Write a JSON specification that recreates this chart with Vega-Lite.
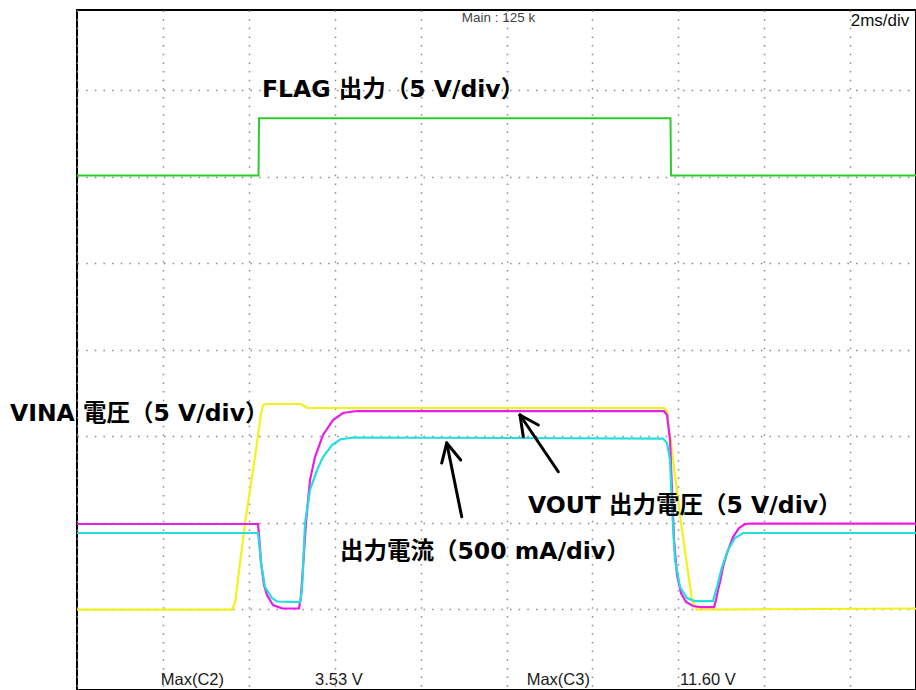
{
  "$schema": "https://vega.github.io/schema/vega-lite/v6.json",
  "width": 839,
  "height": 680,
  "autosize": {"type": "none"},
  "padding": {"left": 77, "top": 10, "right": 0, "bottom": 0},
  "background": "white",
  "config": {
    "view": {"stroke": "black", "strokeWidth": 2},
    "axis": {"grid": true, "labels": false, "ticks": false, "domain": false, "title": null, "gridColor": "#8a8a8a", "gridWidth": 1.5, "gridDash": [1.5, 7.15], "gridOpacity": 1}
  },
  "datasets": {
    "traces": [
      {"ch": "FLAG", "t": 0, "v": 5.012},
      {"ch": "FLAG", "t": 4.226, "v": 5.012},
      {"ch": "FLAG", "t": 4.238, "v": 5.673},
      {"ch": "FLAG", "t": 13.818, "v": 5.673},
      {"ch": "FLAG", "t": 13.830, "v": 5.012},
      {"ch": "FLAG", "t": 19.534, "v": 5.012},

      {"ch": "VINA", "t": 0, "v": -0.006},
      {"ch": "VINA", "t": 3.609, "v": -0.006},
      {"ch": "VINA", "t": 3.679, "v": 0.069},
      {"ch": "VINA", "t": 3.912, "v": 0.994},
      {"ch": "VINA", "t": 4.144, "v": 1.757},
      {"ch": "VINA", "t": 4.284, "v": 2.254},
      {"ch": "VINA", "t": 4.331, "v": 2.358},
      {"ch": "VINA", "t": 4.400, "v": 2.370},
      {"ch": "VINA", "t": 5.215, "v": 2.370},
      {"ch": "VINA", "t": 5.285, "v": 2.347},
      {"ch": "VINA", "t": 5.355, "v": 2.324},
      {"ch": "VINA", "t": 13.667, "v": 2.324},
      {"ch": "VINA", "t": 13.737, "v": 2.289},
      {"ch": "VINA", "t": 14.063, "v": 0.994},
      {"ch": "VINA", "t": 14.319, "v": 0.104},
      {"ch": "VINA", "t": 14.435, "v": -0.006},
      {"ch": "VINA", "t": 19.534, "v": 0.006},

      {"ch": "VOUT", "t": 0, "v": 0.983},
      {"ch": "VOUT", "t": 4.214, "v": 0.983},
      {"ch": "VOUT", "t": 4.238, "v": 0.855},
      {"ch": "VOUT", "t": 4.284, "v": 0.543},
      {"ch": "VOUT", "t": 4.354, "v": 0.277},
      {"ch": "VOUT", "t": 4.424, "v": 0.162},
      {"ch": "VOUT", "t": 4.563, "v": 0.046},
      {"ch": "VOUT", "t": 4.773, "v": 0.008},
      {"ch": "VOUT", "t": 5.169, "v": 0.006},
      {"ch": "VOUT", "t": 5.215, "v": 0.150},
      {"ch": "VOUT", "t": 5.262, "v": 0.486},
      {"ch": "VOUT", "t": 5.332, "v": 1.006},
      {"ch": "VOUT", "t": 5.425, "v": 1.491},
      {"ch": "VOUT", "t": 5.541, "v": 1.757},
      {"ch": "VOUT", "t": 5.728, "v": 2.012},
      {"ch": "VOUT", "t": 5.960, "v": 2.185},
      {"ch": "VOUT", "t": 6.193, "v": 2.266},
      {"ch": "VOUT", "t": 6.519, "v": 2.289},
      {"ch": "VOUT", "t": 13.667, "v": 2.289},
      {"ch": "VOUT", "t": 13.737, "v": 2.243},
      {"ch": "VOUT", "t": 13.807, "v": 1.954},
      {"ch": "VOUT", "t": 13.853, "v": 1.376},
      {"ch": "VOUT", "t": 13.900, "v": 0.798},
      {"ch": "VOUT", "t": 13.970, "v": 0.393},
      {"ch": "VOUT", "t": 14.063, "v": 0.185},
      {"ch": "VOUT", "t": 14.179, "v": 0.081},
      {"ch": "VOUT", "t": 14.342, "v": 0.035},
      {"ch": "VOUT", "t": 14.505, "v": 0.023},
      {"ch": "VOUT", "t": 14.831, "v": 0.023},
      {"ch": "VOUT", "t": 14.878, "v": 0.104},
      {"ch": "VOUT", "t": 14.924, "v": 0.220},
      {"ch": "VOUT", "t": 14.971, "v": 0.312},
      {"ch": "VOUT", "t": 15.040, "v": 0.486},
      {"ch": "VOUT", "t": 15.134, "v": 0.647},
      {"ch": "VOUT", "t": 15.273, "v": 0.832},
      {"ch": "VOUT", "t": 15.413, "v": 0.936},
      {"ch": "VOUT", "t": 15.553, "v": 0.983},
      {"ch": "VOUT", "t": 15.669, "v": 0.988},
      {"ch": "VOUT", "t": 19.534, "v": 0.988},

      {"ch": "IOUT", "t": 0, "v": 0.879},
      {"ch": "IOUT", "t": 4.214, "v": 0.879},
      {"ch": "IOUT", "t": 4.238, "v": 0.775},
      {"ch": "IOUT", "t": 4.284, "v": 0.532},
      {"ch": "IOUT", "t": 4.377, "v": 0.254},
      {"ch": "IOUT", "t": 4.540, "v": 0.127},
      {"ch": "IOUT", "t": 4.657, "v": 0.087},
      {"ch": "IOUT", "t": 5.192, "v": 0.081},
      {"ch": "IOUT", "t": 5.239, "v": 0.220},
      {"ch": "IOUT", "t": 5.309, "v": 0.994},
      {"ch": "IOUT", "t": 5.425, "v": 1.376},
      {"ch": "IOUT", "t": 5.588, "v": 1.607},
      {"ch": "IOUT", "t": 5.728, "v": 1.757},
      {"ch": "IOUT", "t": 5.937, "v": 1.896},
      {"ch": "IOUT", "t": 6.123, "v": 1.960},
      {"ch": "IOUT", "t": 6.426, "v": 1.983},
      {"ch": "IOUT", "t": 13.644, "v": 1.971},
      {"ch": "IOUT", "t": 13.737, "v": 1.919},
      {"ch": "IOUT", "t": 13.807, "v": 1.723},
      {"ch": "IOUT", "t": 13.853, "v": 1.179},
      {"ch": "IOUT", "t": 13.923, "v": 0.566},
      {"ch": "IOUT", "t": 14.040, "v": 0.254},
      {"ch": "IOUT", "t": 14.203, "v": 0.127},
      {"ch": "IOUT", "t": 14.389, "v": 0.092},
      {"ch": "IOUT", "t": 14.808, "v": 0.092},
      {"ch": "IOUT", "t": 14.901, "v": 0.254},
      {"ch": "IOUT", "t": 15.017, "v": 0.486},
      {"ch": "IOUT", "t": 15.157, "v": 0.682},
      {"ch": "IOUT", "t": 15.320, "v": 0.821},
      {"ch": "IOUT", "t": 15.506, "v": 0.879},
      {"ch": "IOUT", "t": 19.534, "v": 0.879}
    ],
    "arrows": [
      {"t": 8.957, "v": 1.067, "t2": 8.608, "v2": 1.919},
      {"t": 8.491, "v": 1.688, "t2": 8.608, "v2": 1.919},
      {"t": 8.934, "v": 1.723, "t2": 8.608, "v2": 1.919},
      {"t": 11.206, "v": 1.587, "t2": 10.314, "v2": 2.243},
      {"t": 10.391, "v": 1.992, "t2": 10.314, "v2": 2.243},
      {"t": 10.740, "v": 2.127, "t2": 10.314, "v2": 2.243}
    ],
    "labels": [
      {"text": "FLAG 出力（5 V/div）", "t": 4.307, "v": 5.919},
      {"text": "VINA 電圧（5 V/div）", "t": -1.560, "v": 2.173},
      {"text": "VOUT 出力電圧（5 V/div）", "t": 10.501, "v": 1.106},
      {"text": "出力電流（500 mA/div）", "t": 6.123, "v": 0.578}
    ],
    "meas": [
      {"text": "Max(C2)", "t": 1.949, "v": -0.878},
      {"text": "3.53 V", "t": 5.541, "v": -0.878},
      {"text": "Max(C3)", "t": 10.470, "v": -0.878},
      {"text": "11.60 V", "t": 14.040, "v": -0.878}
    ],
    "header": [
      {"text": "Main : 125 k", "t": 8.957, "v": 6.786, "kind": "main"},
      {"text": "2ms/div", "t": 18.014, "v": 6.740, "kind": "div"}
    ]
  },
  "layer": [
    {
      "data": {"name": "traces"},
      "transform": [{"filter": "datum.ch === 'VINA'"}],
      "mark": {"type": "line", "color": "#f2f21a", "strokeWidth": 2.2, "interpolate": "linear"},
      "encoding": {
        "x": {"field": "t", "type": "quantitative", "scale": {"domain": [0, 19.534], "nice": false, "zero": false}, "axis": {"values": [0, 2, 4, 6, 8, 10, 12, 14, 16, 18]}},
        "y": {"field": "v", "type": "quantitative", "scale": {"domain": [-0.936, 6.925], "nice": false, "zero": false}, "axis": {"values": [0, 1, 2, 3, 4, 5, 6]}}
      }
    },
    {
      "data": {"name": "traces"},
      "transform": [{"filter": "datum.ch === 'VOUT'"}],
      "mark": {"type": "line", "color": "#e81ee8", "strokeWidth": 2.2},
      "encoding": {
        "x": {"field": "t", "type": "quantitative"},
        "y": {"field": "v", "type": "quantitative"}
      }
    },
    {
      "data": {"name": "traces"},
      "transform": [{"filter": "datum.ch === 'IOUT'"}],
      "mark": {"type": "line", "color": "#22dede", "strokeWidth": 2.2},
      "encoding": {
        "x": {"field": "t", "type": "quantitative"},
        "y": {"field": "v", "type": "quantitative"}
      }
    },
    {
      "data": {"name": "traces"},
      "transform": [{"filter": "datum.ch === 'FLAG'"}],
      "mark": {"type": "line", "color": "#2ccc2c", "strokeWidth": 2},
      "encoding": {
        "x": {"field": "t", "type": "quantitative"},
        "y": {"field": "v", "type": "quantitative"}
      }
    },
    {
      "data": {"name": "arrows"},
      "mark": {"type": "rule", "color": "black", "strokeWidth": 3, "strokeCap": "round"},
      "encoding": {
        "x": {"field": "t", "type": "quantitative"},
        "y": {"field": "v", "type": "quantitative"},
        "x2": {"field": "t2"},
        "y2": {"field": "v2"}
      }
    },
    {
      "data": {"name": "labels"},
      "mark": {"type": "text", "align": "left", "baseline": "alphabetic", "font": "DejaVu Sans, Noto Sans CJK JP", "fontWeight": "bold", "fontSize": 23.5, "color": "black"},
      "encoding": {
        "x": {"field": "t", "type": "quantitative"},
        "y": {"field": "v", "type": "quantitative"},
        "text": {"field": "text"}
      }
    },
    {
      "data": {"name": "meas"},
      "mark": {"type": "text", "align": "left", "baseline": "alphabetic", "font": "Liberation Sans", "fontSize": 16.5, "color": "#1a1a1a"},
      "encoding": {
        "x": {"field": "t", "type": "quantitative"},
        "y": {"field": "v", "type": "quantitative"},
        "text": {"field": "text"}
      }
    },
    {
      "data": {"name": "header"},
      "transform": [{"filter": "datum.kind === 'main'"}],
      "mark": {"type": "text", "align": "left", "baseline": "alphabetic", "font": "Liberation Sans", "fontSize": 13.5, "color": "#444444"},
      "encoding": {
        "x": {"field": "t", "type": "quantitative"},
        "y": {"field": "v", "type": "quantitative"},
        "text": {"field": "text"}
      }
    },
    {
      "data": {"name": "header"},
      "transform": [{"filter": "datum.kind === 'div'"}],
      "mark": {"type": "text", "align": "left", "baseline": "alphabetic", "font": "Liberation Sans", "fontSize": 17, "color": "#111111"},
      "encoding": {
        "x": {"field": "t", "type": "quantitative"},
        "y": {"field": "v", "type": "quantitative"},
        "text": {"field": "text"}
      }
    }
  ]
}
